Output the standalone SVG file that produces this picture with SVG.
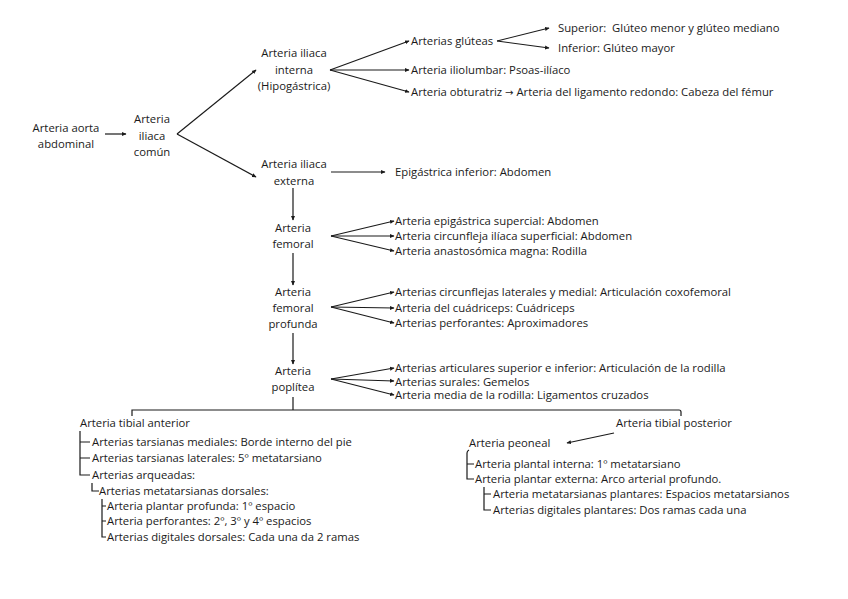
<svg xmlns="http://www.w3.org/2000/svg" width="848" height="599" viewBox="0 0 848 599">
<style>
text{font-family:"Open Sans","Noto Sans","Liberation Sans",sans-serif;font-size:11.3px;fill:#1a1a1a}
.c{text-anchor:middle}
.l{stroke:#1a1a1a;stroke-width:1.2;fill:none}
.a{marker-end:url(#ah)}
.arr{font-family:"DejaVu Sans",sans-serif;font-size:10px}
</style>
<defs>
<marker id="ah" markerUnits="userSpaceOnUse" markerWidth="5" markerHeight="5" refX="4" refY="2.5" orient="auto">
<path d="M0,0.5 L4.5,2.5 L0,4.5 Z" fill="#1a1a1a"/>
</marker>
</defs>
<rect width="848" height="599" fill="#fff"/>
<g id="connectors">
<line class="l a" x1="105" y1="134" x2="126" y2="134"/>
<line class="l a" x1="177" y1="134" x2="256" y2="70"/>
<line class="l a" x1="177" y1="134" x2="256" y2="177"/>
<line class="l a" x1="330" y1="70" x2="409" y2="41"/>
<line class="l a" x1="330" y1="70" x2="409" y2="70"/>
<line class="l a" x1="330" y1="70" x2="409" y2="92"/>
<line class="l a" x1="497" y1="41" x2="549" y2="28"/>
<line class="l a" x1="497" y1="41" x2="549" y2="48"/>
<line class="l a" x1="331" y1="172" x2="385" y2="172"/>
<line class="l a" x1="293" y1="188" x2="293" y2="220"/>
<line class="l a" x1="331" y1="236" x2="394" y2="221"/>
<line class="l a" x1="331" y1="236" x2="394" y2="236"/>
<line class="l a" x1="331" y1="236" x2="394" y2="251"/>
<line class="l a" x1="293" y1="253" x2="293" y2="285"/>
<line class="l a" x1="331" y1="307" x2="394" y2="292"/>
<line class="l a" x1="331" y1="307" x2="394" y2="308"/>
<line class="l a" x1="331" y1="307" x2="394" y2="323"/>
<line class="l a" x1="293" y1="333" x2="293" y2="364"/>
<line class="l a" x1="331" y1="379" x2="394" y2="368"/>
<line class="l a" x1="331" y1="379" x2="394" y2="381"/>
<line class="l a" x1="331" y1="379" x2="394" y2="395"/>
<path class="l" d="M293,397 V410 M132,416 V410 H679 Q681,410 681,412 V416"/>
<line class="l a" x1="614" y1="433" x2="567" y2="443"/>
<path class="l" d="M80,431 V475 H90 M80,442 H90 M80,458 H90"/>
<path class="l" d="M92,483 V491 H99"/>
<path class="l" d="M102,499 V537 H106 M102,506 H106 M102,521 H106"/>
<path class="l" d="M469,450 Q467,451 467,453 V479 H474 M467,464 H474"/>
<path class="l" d="M484,487 V510 H491 M484,494 H491"/>
</g>
<g id="aorta"><text class="c" x="66" y="132">Arteria aorta</text><text class="c" x="66" y="148">abdominal</text></g>
<g id="iliaca-comun"><text class="c" x="152" y="123">Arteria</text><text class="c" x="152" y="140">iliaca</text><text class="c" x="152" y="156">común</text></g>
<g id="iliaca-interna"><text class="c" x="294" y="57">Arteria iliaca</text><text class="c" x="294" y="74">interna</text><text class="c" x="294" y="90">(Hipogástrica)</text></g>
<g id="gluteas"><text x="411" y="45">Arterias glúteas</text></g>
<g id="superior"><text x="558" y="32" xml:space="preserve">Superior:  Glúteo menor y glúteo mediano</text></g>
<g id="inferior"><text x="558" y="52">Inferior: Glúteo mayor</text></g>
<g id="iliolumbar"><text x="411" y="74">Arteria iliolumbar: Psoas-ilíaco</text></g>
<g id="obturatriz"><text x="411" y="96">Arteria obturatriz <tspan class="arr">→</tspan> Arteria del ligamento redondo: Cabeza del fémur</text></g>
<g id="iliaca-externa"><text class="c" x="294" y="168">Arteria iliaca</text><text class="c" x="294" y="185">externa</text></g>
<g id="epigastrica"><text x="395" y="176">Epigástrica inferior: Abdomen</text></g>
<g id="femoral"><text class="c" x="293" y="232">Arteria</text><text class="c" x="293" y="248">femoral</text></g>
<g id="femoral-ramas"><text x="395" y="225">Arteria epigástrica supercial: Abdomen</text><text x="395" y="240">Arteria circunfleja ilíaca superficial: Abdomen</text><text x="395" y="255">Arteria anastosómica magna: Rodilla</text></g>
<g id="femoral-profunda"><text class="c" x="293" y="296">Arteria</text><text class="c" x="293" y="312">femoral</text><text class="c" x="293" y="328">profunda</text></g>
<g id="profunda-ramas"><text x="395" y="296">Arterias circunflejas laterales y medial: Articulación coxofemoral</text><text x="395" y="312">Arteria del cuádriceps: Cuádriceps</text><text x="395" y="327">Arterias perforantes: Aproximadores</text></g>
<g id="poplitea"><text class="c" x="293" y="375">Arteria</text><text class="c" x="293" y="391">poplítea</text></g>
<g id="poplitea-ramas"><text x="395" y="372">Arterias articulares superior e inferior: Articulación de la rodilla</text><text x="395" y="385.5">Arterias surales: Gemelos</text><text x="395" y="399">Arteria media de la rodilla: Ligamentos cruzados</text></g>
<g id="tibial-anterior"><text x="80" y="427">Arteria tibial anterior</text>
<text x="92" y="446">Arterias tarsianas mediales: Borde interno del pie</text>
<text x="92" y="462">Arterias tarsianas laterales: 5º metatarsiano</text>
<text x="92" y="479">Arterias arqueadas:</text>
<text x="99" y="495">Arterias metatarsianas dorsales:</text>
<text x="107" y="510">Arteria plantar profunda: 1º espacio</text>
<text x="107" y="525">Arteria perforantes: 2º, 3º y 4º espacios</text>
<text x="107" y="541">Arterias digitales dorsales: Cada una da 2 ramas</text></g>
<g id="tibial-posterior"><text x="616" y="427">Arteria tibial posterior</text></g>
<g id="peoneal"><text x="469" y="447">Arteria peoneal</text>
<text x="475" y="468">Arteria plantal interna: 1º metatarsiano</text>
<text x="475" y="483">Arteria plantar externa: Arco arterial profundo.</text>
<text x="493" y="498">Arteria metatarsianas plantares: Espacios metatarsianos</text>
<text x="493" y="514">Arterias digitales plantares: Dos ramas cada una</text></g>
</svg>
